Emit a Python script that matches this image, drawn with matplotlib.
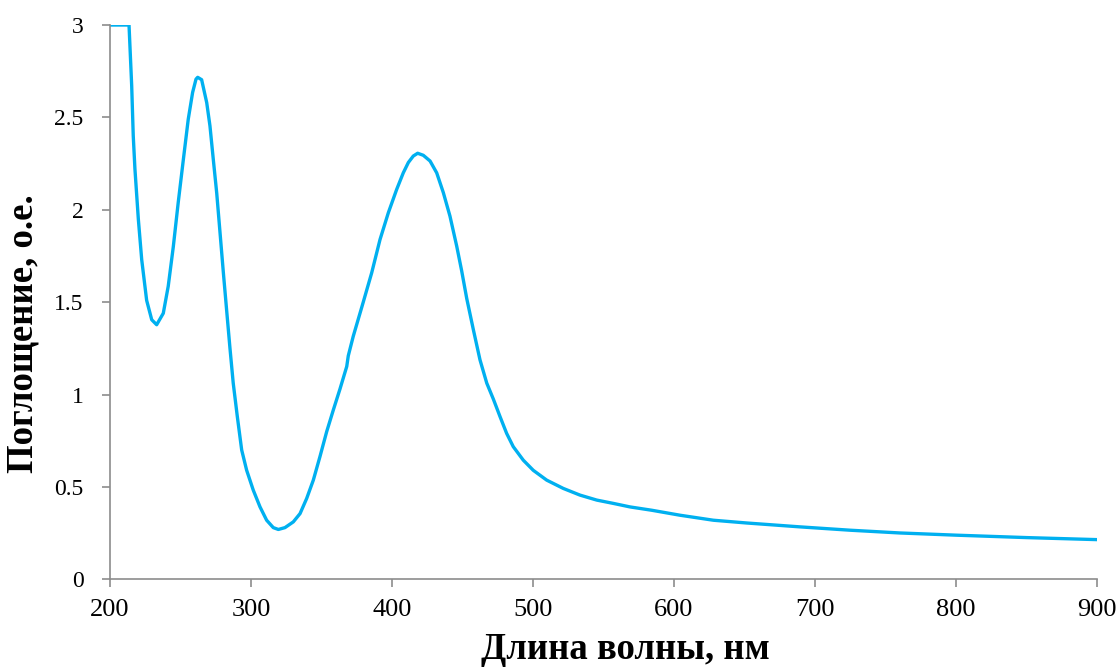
import matplotlib
matplotlib.use("Agg")
import matplotlib.pyplot as plt

# absorption spectrum
wavelength = [200, 213.5, 215.4, 216.5, 217.7, 220.1, 222.5, 226.0, 229.6, 233.1,
              237.8, 241.3, 244.9, 248.4, 252.0, 255.5, 258.6, 261.0, 262.2, 265.0,
              268.6, 270.9, 273.3, 275.7, 278.0, 280.4, 282.8, 285.1, 287.4, 290.3,
              293.4, 296.9, 301.6, 306.4, 311.1, 315.8, 319.4, 324.1, 330.0, 334.8,
              339.5, 344.2, 348.9, 353.7, 358.4, 363.1, 367.9, 369.0, 372.5, 377.3,
              379.6, 385.6, 391.5, 397.4, 403.3, 408.0, 411.6, 415.1, 418.2, 422.2,
              427.0, 431.7, 436.4, 441.1, 445.9, 449.4, 453.0, 457.7, 462.4, 467.2,
              471.9, 476.6, 481.3, 486.0, 493.1, 500.2, 509.7, 521.5, 533.3, 545.2,
              557.0, 568.8, 584.2, 604.3, 627.9, 651.6, 689.4, 724.8, 760.3, 800.5,
              850.1, 900]
absorbance = [3.0, 3.0, 2.67, 2.40, 2.22, 1.95, 1.73, 1.51, 1.405, 1.378,
              1.44, 1.586, 1.80, 2.04, 2.27, 2.49, 2.635, 2.707, 2.717, 2.704,
              2.58, 2.454, 2.27, 2.09, 1.88, 1.66, 1.45, 1.25, 1.062, 0.881,
              0.70, 0.591, 0.483, 0.392, 0.32, 0.28, 0.27, 0.28, 0.311, 0.356,
              0.438, 0.537, 0.664, 0.80, 0.917, 1.03, 1.152, 1.21, 1.315, 1.44,
              1.50, 1.659, 1.839, 1.984, 2.11, 2.20, 2.256, 2.291, 2.306, 2.295,
              2.264, 2.20, 2.093, 1.966, 1.803, 1.67, 1.52, 1.351, 1.188, 1.062,
              0.975, 0.881, 0.79, 0.718, 0.645, 0.59, 0.537, 0.492, 0.456, 0.429,
              0.411, 0.392, 0.374, 0.347, 0.32, 0.305, 0.284, 0.266, 0.251, 0.239,
              0.226, 0.215]

x_ticks = [200, 300, 400, 500, 600, 700, 800, 900]
y_ticks = [0, 0.5, 1, 1.5, 2, 2.5, 3]
y_tick_labels = ["0", "0.5", "1", "1.5", "2", "2.5", "3"]

plt.rcParams['font.family'] = ['Liberation Serif', 'DejaVu Serif']

fig = plt.figure(figsize=(11.2, 6.69), dpi=100)
ax = fig.add_axes([0.0982, 0.134, 0.8813, 0.8286])

ax.plot(wavelength, absorbance, color='#00B0F0', linewidth=2.4,
        solid_joinstyle='round', solid_capstyle='round')

ax.set_xlim(200, 900)
ax.set_ylim(0, 3)
ax.set_xticks(x_ticks)
ax.set_yticks(y_ticks)
ax.set_yticklabels(y_tick_labels)

for side in ('top', 'right'):
    ax.spines[side].set_visible(False)
for side in ('left', 'bottom'):
    ax.spines[side].set_color('#8c8c8c')
    ax.spines[side].set_linewidth(1.2)

ax.tick_params(axis='both', direction='out', length=6, width=1.2, color='#8c8c8c')
ax.tick_params(axis='x', labelsize=19, pad=8)
ax.tick_params(axis='y', labelsize=17, pad=13)

ax.set_xlabel('Длина волны, нм', fontsize=26.5, fontweight='bold')
ax.set_ylabel('Поглощение, о.е.', fontsize=26.5, fontweight='bold')
ax.xaxis.set_label_coords(0.522, -0.095)
ax.yaxis.set_label_coords(-0.07, 0.444)

fig.savefig('out.png', dpi=100)
